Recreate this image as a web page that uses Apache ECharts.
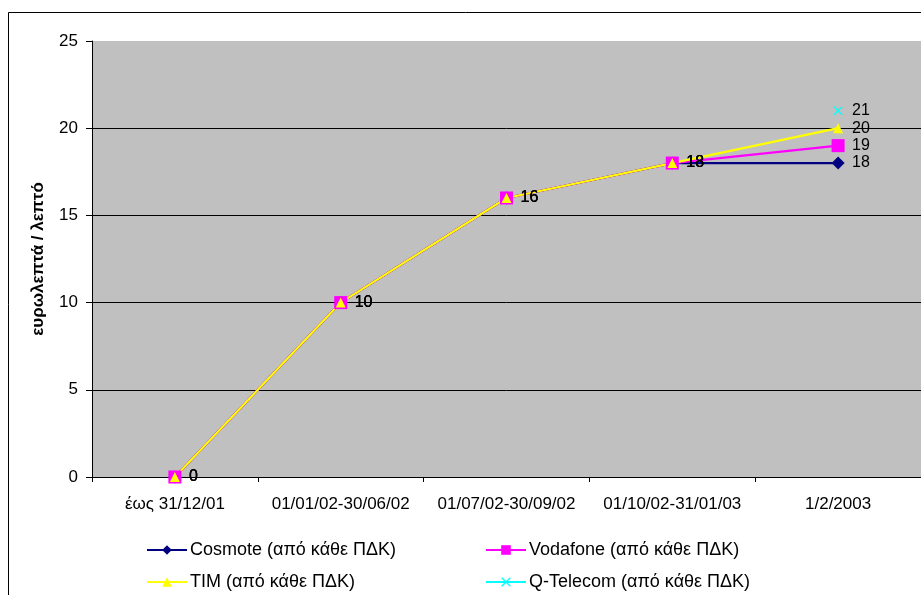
<!DOCTYPE html>
<html>
<head>
<meta charset="utf-8">
<script src="https://cdn.jsdelivr.net/npm/echarts@6/dist/echarts.min.js"></script>
<style>
  html, body { margin: 0; padding: 0; background: #fff; }
  #chart { width: 921px; height: 595px; }
</style>
</head>
<body>
<div id="chart"></div>
<script>
// Period categories on the x axis
const categories = ['έως 31/12/01', '01/01/02-30/06/02', '01/07/02-30/09/02', '01/10/02-31/01/03', '1/2/2003'];

// Charge per minute (eurocents) for each operator
const cosmote  = [0, 10, 16, 18, 18];
const vodafone = [0, 10, 16, 18, 19];
const tim      = [0, 10, 16, 18, 20];
const qtelecom = [null, null, null, null, 21];

const seriesNames = [
  'Cosmote (από κάθε ΠΔΚ)',
  'Vodafone (από κάθε ΠΔΚ)',
  'TIM (από κάθε ΠΔΚ)',
  'Q-Telecom (από κάθε ΠΔΚ)'
];

const FONT = "'Liberation Sans', Arial, sans-serif";
const crossPath = 'path://M0,1L1,0L5,4L9,0L10,1L6,5L10,9L9,10L5,6L1,10L0,9L4,5Z';

function lineSeries(name, data, color, symbol, size, dist) {
  return {
    name: name,
    type: 'line',
    data: data,
    symbol: symbol,
    symbolSize: size,
    showAllSymbol: true,
    connectNulls: false,
    lineStyle: { color: color, width: 2.2 },
    itemStyle: { color: color },
    label: {
      show: true,
      position: 'right',
      distance: dist,
      color: '#000',
      fontFamily: FONT,
      fontSize: 16
    },
    emphasis: { disabled: true },
    animation: false
  };
}

function legendAt(name, left, top) {
  return {
    data: [name],
    left: left,
    top: top,
    itemWidth: 40,
    itemHeight: 12,
    itemGap: 0,
    padding: 0,
    textStyle: { fontFamily: FONT, fontSize: 18, color: '#000', padding: [0, 0, 0, -2] },
    selectedMode: false
  };
}

const chart = echarts.init(document.getElementById('chart'), null, { renderer: 'canvas' });

chart.setOption({
  backgroundColor: '#fff',
  animation: false,
  graphic: [
    {
      type: 'rect',
      shape: { x: 8.5, y: 12.5, width: 940, height: 620 },
      style: { fill: 'none', stroke: '#000', lineWidth: 1 },
      z: -1
    },
    {
      // vertical axis title
      type: 'text',
      x: 38,
      y: 259,
      rotation: Math.PI / 2,
      style: {
        text: 'ευρωλεπτά / λεπτό',
        font: "bold 17px 'Liberation Sans', Arial, sans-serif",
        fill: '#000',
        align: 'center',
        verticalAlign: 'middle'
      }
    }
  ],
  legend: [
    legendAt(seriesNames[0], 146, 541),
    legendAt(seriesNames[1], 485, 541),
    legendAt(seriesNames[2], 146, 573),
    legendAt(seriesNames[3], 485, 573)
  ],
  grid: {
    left: 92,
    top: 41,
    right: 0,
    bottom: 118,
    show: true,
    backgroundColor: '#C0C0C0',
    borderWidth: 0
  },
  xAxis: {
    type: 'category',
    data: categories,
    boundaryGap: true,
    axisLine: { show: true, lineStyle: { color: '#000', width: 1 } },
    axisTick: { show: true, length: 5, lineStyle: { color: '#000' } },
    axisLabel: { margin: 19, color: '#000', fontFamily: FONT, fontSize: 17, interval: 0 },
    splitLine: { show: false }
  },
  yAxis: {
    type: 'value',
    min: 0,
    max: 25,
    interval: 5,
    axisLine: { show: true, lineStyle: { color: '#000', width: 1 } },
    axisTick: { show: true, length: 6, lineStyle: { color: '#000' } },
    axisLabel: { margin: 14, color: '#000', fontFamily: FONT, fontSize: 17 },
    splitLine: { show: true, showMaxLine: false, lineStyle: { color: '#000', width: 1 } }
  },
  series: [
    lineSeries(seriesNames[0], cosmote, '#000080', 'diamond', 13, 7.5),
    lineSeries(seriesNames[1], vodafone, '#FF00FF', 'rect', 13, 7.5),
    lineSeries(seriesNames[2], tim, '#FFFF00', 'triangle', 10, 9),
    lineSeries(seriesNames[3], qtelecom, '#00FFFF', crossPath, 9, 9.5)
  ]
});
</script>
</body>
</html>
